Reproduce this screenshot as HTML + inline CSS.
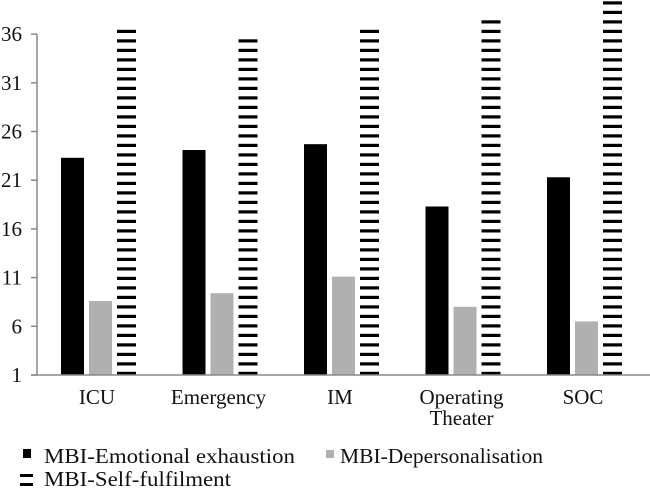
<!DOCTYPE html>
<html><head><meta charset="utf-8"><style>
body{margin:0;background:#fff;}
svg text{font-family:"Liberation Serif",serif;font-size:21px;fill:#111;}
</style></head><body>
<svg id="chart" width="650" height="489" xmlns="http://www.w3.org/2000/svg">
<defs>
<pattern id="stripes" width="20" height="9.5" patternUnits="userSpaceOnUse" y="375">
<rect x="0" y="-3.2" width="20" height="3.2" fill="#000"/>
<rect x="0" y="6.3" width="20" height="3.2" fill="#000"/>
</pattern>
</defs>
<g id="bars"></g>
<line x1="37" y1="34" x2="37" y2="375" stroke="#888" stroke-width="1.5"/>
<line x1="31" y1="375" x2="650" y2="375" stroke="#888" stroke-width="1.5"/>
<g id="yticks"></g>
<g id="xlabels"></g>
<g>
<rect x="23" y="449" width="8" height="9" fill="#000"/>
<text x="44" y="463" textLength="251" lengthAdjust="spacingAndGlyphs">MBI-Emotional exhaustion</text>
<rect x="326" y="450" width="8" height="8" fill="#b0b0b0"/>
<text x="340" y="463" textLength="203" lengthAdjust="spacingAndGlyphs">MBI-Depersonalisation</text>
<rect x="20" y="474" width="13" height="3" fill="#000"/>
<rect x="20" y="483" width="13" height="3" fill="#000"/>
<text x="44" y="486" textLength="187" lengthAdjust="spacingAndGlyphs">MBI-Self-fulfilment</text>
</g>
</svg>
<script>
const categories=["ICU","Emergency","IM","Operating|Theater","SOC"];
const emotional=[23.3,24.1,24.7,18.3,21.3];
const depersonalisation=[8.6,9.4,11.1,8.0,6.5];
const selfFulfilment=[36.6,35.7,36.6,37.7,39.6];
const yTicks=[1,6,11,16,21,26,31,36];

const NS="http://www.w3.org/2000/svg";
const x0=37,catW=121.5,yBase=375,pxPerUnit=9.74;
function y(v){return yBase-(v-1)*pxPerUnit;}
function xc(i){return x0+i*catW;}
const bars=document.getElementById('bars');
function mk(tag,attrs,parent){const e=document.createElementNS(NS,tag);for(const k in attrs)e.setAttribute(k,attrs[k]);parent.appendChild(e);return e;}
const series=[[emotional,24,23,'#000','emotional'],[depersonalisation,52,23,'#b0b0b0','depersonalisation'],[selfFulfilment,80,19,'url(#stripes)','selffulfilment']];
categories.forEach((c,i)=>{
  series.forEach(s=>{
    const top=Math.max(0,y(s[0][i]));
    const r=mk('rect',{x:xc(i)+s[1],y:top,width:s[2],height:yBase-top,fill:s[3]},bars);
    
    
  });
  const t=mk('text',{x:xc(i)+60,y:404,'text-anchor':'middle'},document.getElementById('xlabels'));
  
  
  const parts=c.split('|');
  parts.forEach((p,j)=>{const ts=mk('tspan',{x:xc(i)+60,dy:j?21:0},t);ts.textContent=p;});
});
const yt=document.getElementById('yticks');
yTicks.forEach(v=>{
  mk('line',{x1:31,x2:37,y1:y(v),y2:y(v),stroke:'#888','stroke-width':1.5},yt);
  const t=mk('text',{x:22,y:y(v)+7,'text-anchor':'end'},yt);
  
  
  t.textContent=v;
});
</script>
</body></html>
